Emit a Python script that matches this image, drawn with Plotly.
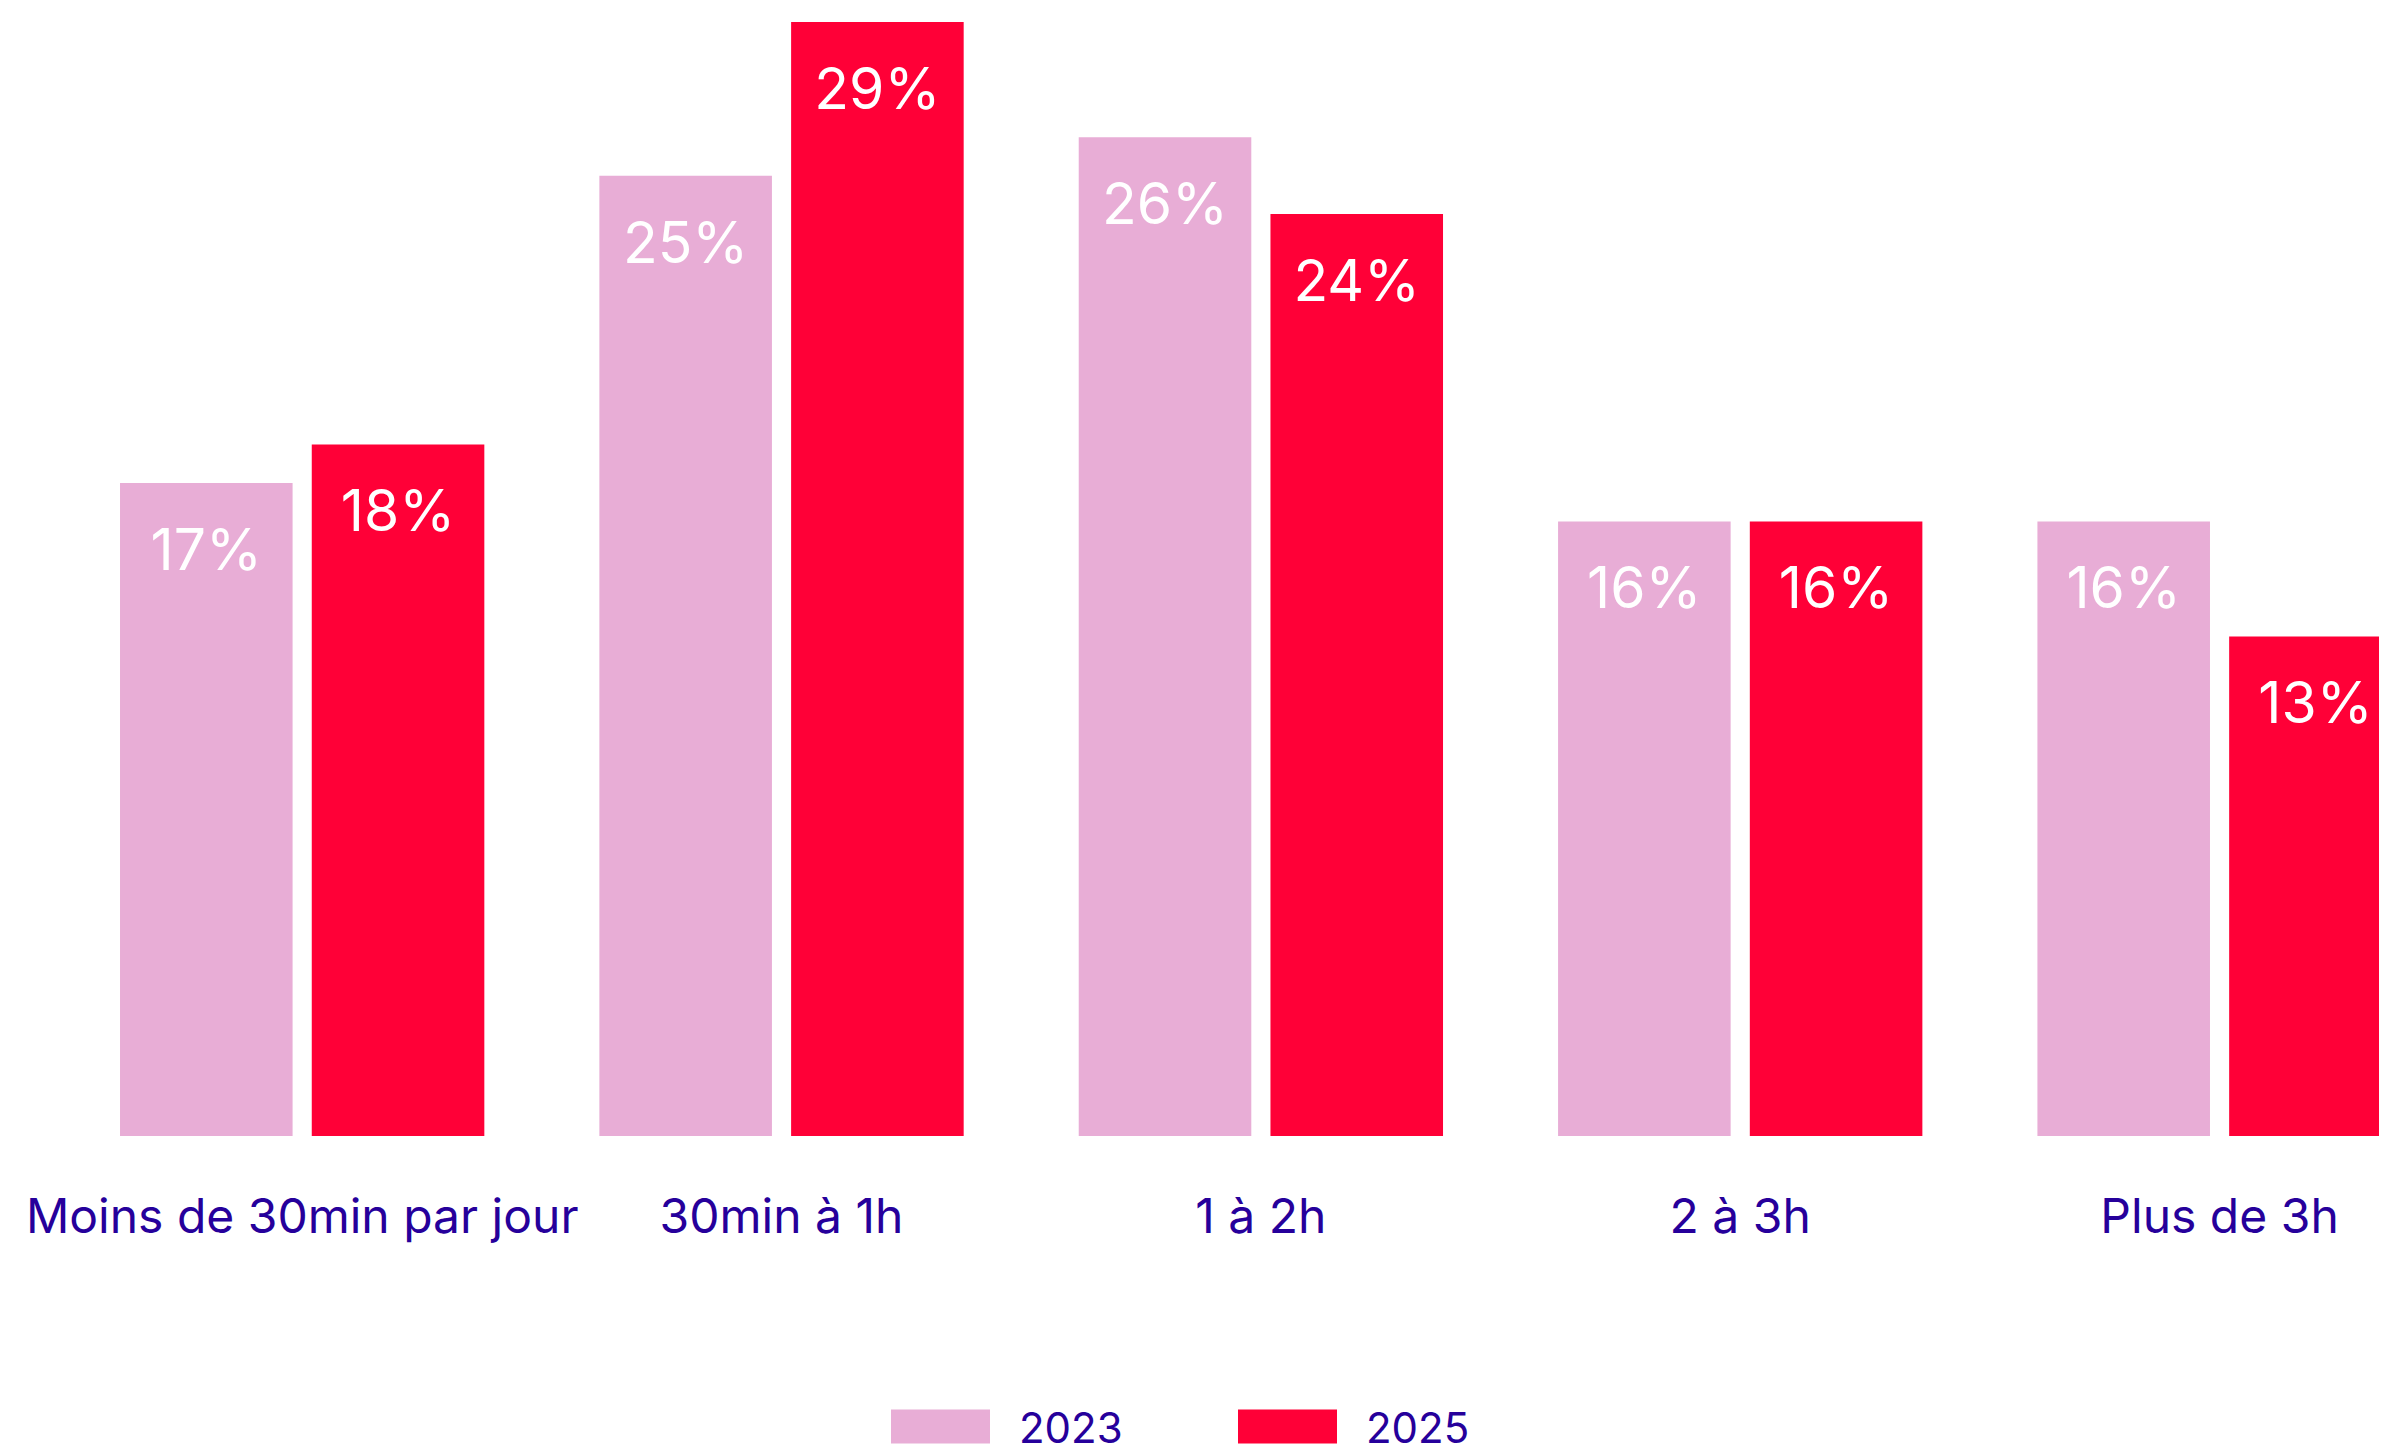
import plotly.graph_objects as go

categories = ["Moins de 30min par jour", "30min à 1h", "1 à 2h", "2 à 3h", "Plus de 3h"]
series_names = ["2023", "2025"]
values_2023 = [17, 25, 26, 16, 16]
values_2025 = [18, 29, 24, 16, 13]
colors = ["#E8ADD6", "#FF0037"]
text_color = "#26009B"
FONT = "Inter"

series_values = [values_2023, values_2025]

W, HT = 2371, 1436   # figure size (fits inside the page's default body margins)
H = 1127.6           # plot area height in px

fig = go.Figure()
for i, (name, vals, col) in enumerate(zip(series_names, series_values, colors)):
    fig.add_trace(go.Bar(
        x=categories, y=vals, name=name,
        offsetgroup=str(i), alignmentgroup="g",
        marker=dict(color=col, line=dict(width=0)),
        hoverinfo="skip", showlegend=False,
    ))

# value labels (grouped scatter text aligned with the bars)
for i, (name, vals) in enumerate(zip(series_names, series_values)):
    fig.add_trace(go.Scatter(
        x=categories, y=vals, mode="markers+text",
        offsetgroup=str(i), alignmentgroup="g",
        marker=dict(size=69, opacity=0),
        text=[f"{v}%" for v in vals],
        textposition="bottom center",
        textfont=dict(family=FONT, size=57, color="white"),
        hoverinfo="skip", showlegend=False, cliponaxis=False,
    ))

# legend drawn manually (large swatches)
def py(p):
    return (H - p) / H

legend_items = [
    (883 / W, 982 / W, 1009 / W),
    (1230 / W, 1329 / W, 1356 / W),
]
for (x0, x1, xt), name, col in zip(legend_items, series_names, colors):
    fig.add_shape(type="rect", xref="paper", yref="paper",
                  x0=x0, x1=x1, y0=py(1435), y1=py(1401),
                  fillcolor=col, line=dict(width=0))
    fig.add_annotation(xref="paper", yref="paper", x=xt, y=py(1418),
                       text=name, showarrow=False, xanchor="left", yanchor="middle",
                       height=34, valign="middle",
                       font=dict(family=FONT, size=42, color=text_color))

fig.update_layout(
    width=W, height=HT,
    margin=dict(l=0, r=0, t=0, b=HT - H, pad=0),
    paper_bgcolor="white", plot_bgcolor="white",
    barmode="group", bargap=0.2, bargroupgap=0.1,
    scattermode="group", scattergap=0.2,
    font=dict(family=FONT, color=text_color),
    showlegend=False,
)
fig.update_xaxes(
    type="category", range=[-0.6137, 4.3326],
    showgrid=False, zeroline=False, showline=False, ticks="",
    tickfont=dict(family=FONT, size=48, color=text_color),
    ticklabelstandoff=48,
)
fig.update_yaxes(
    range=[0, H / 38.4], visible=False, showgrid=False, zeroline=False,
)

fig.write_html("out.html")
